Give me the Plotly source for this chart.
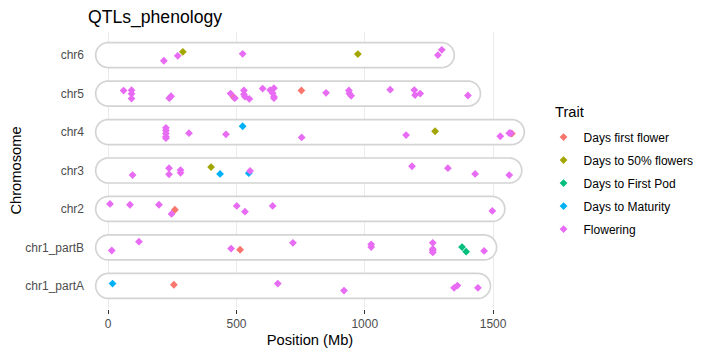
import numpy as np
import plotly.graph_objects as go

chromosomes = ["chr1_partA", "chr1_partB", "chr2", "chr3", "chr4", "chr5", "chr6"]
traits = ["Days first flower", "Days to 50% flowers", "Days to First Pod", "Days to Maturity", "Flowering"]
colors = ["#F8766D", "#A3A500", "#00BF7D", "#00B0F6", "#E76BF3"]

# Days first flower
dff_chr = ["chr5", "chr5", "chr4", "chr2", "chr1_partB", "chr1_partA"]
dff_pos = [490, 753, 1573, 260, 514, 256]
dff_jit = [-0.10, 0.08, -0.04, -0.02, -0.06, 0.03]

# Days to 50% flowers
d50_chr = ["chr6", "chr6", "chr4", "chr3"]
d50_pos = [291, 973, 1274, 401]
d50_jit = [0.085, 0.026, 0.02, 0.09]

# Days to First Pod
dfp_chr = ["chr1_partB", "chr1_partB"]
dfp_pos = [1379, 1395]
dfp_jit = [0.01, -0.11]

# Days to Maturity
dtm_chr = ["chr4", "chr3", "chr3", "chr1_partA"]
dtm_pos = [524, 436, 548, 17]
dtm_jit = [0.15, -0.09, -0.07, 0.06]

# Flowering
fl_chr = (["chr6"] * 5 + ["chr5"] * 27 + ["chr4"] * 12 + ["chr3"] * 10
          + ["chr2"] * 8 + ["chr1_partB"] * 11 + ["chr1_partA"] * 5)
fl_pos = [217, 271, 524, 1285, 1300,
          60, 91, 91, 91, 238, 245, 477, 494, 529, 529, 533, 550, 602, 631, 646, 641, 646, 646,
          849, 938, 940, 947, 1099, 1193, 1196, 1216, 1402,
          225, 225, 225, 225, 225, 315, 459, 754, 1161, 1528, 1563, 1569,
          95, 237, 237, 282, 282, 553, 1184, 1324, 1430, 1563,
          7, 85, 198, 247, 501, 533, 641, 1497,
          14, 120, 479, 720, 1025, 1025, 1265, 1265, 1265, 1265, 1465,
          661, 919, 1348, 1361, 1441]
fl_jit = [-0.147, -0.018, 0.034, 0.0, 0.137,
          0.078, 0.088, -0.008, -0.13, -0.12, -0.07, 0.0, -0.12, 0.08, -0.02, -0.08, -0.14, 0.13,
          0.09, 0.14, 0.01, -0.08, -0.12, 0.02, 0.08, 0.0, -0.06, 0.10, 0.09, -0.04, 0.0, -0.05,
          0.11, 0.04, -0.04, -0.12, -0.16, -0.03, -0.06, -0.14, -0.08, -0.11, -0.03, -0.03,
          -0.12, 0.06, -0.10, 0.01, -0.06, -0.01, 0.11, 0.06, -0.09, -0.12,
          0.13, 0.11, 0.11, -0.13, 0.08, -0.07, 0.08, -0.05,
          -0.08, 0.15, -0.03, 0.12, 0.08, 0.01, 0.12, -0.04, -0.08, -0.13, -0.09,
          0.06, -0.12, -0.05, 0.01, -0.05]

series = [
    (dff_chr, dff_pos, dff_jit),
    (d50_chr, d50_pos, d50_jit),
    (dfp_chr, dfp_pos, dfp_jit),
    (dtm_chr, dtm_pos, dtm_jit),
    (fl_chr, fl_pos, fl_jit),
]

# page body has an 8px margin, so the figure is drawn 8px smaller and shifted
OFF = 8
W, H = 710 - OFF, 355 - OFF
ML, MR, MT, MB = 88 - OFF, 178, 32 - OFF, 46
pw, ph = W - ML - MR, H - MT - MB

# chromosome extents (from 0 to farthest QTL)
chr_len = {c: 0 for c in chromosomes}
for cs, ps, _ in series:
    for c, p in zip(cs, ps):
        chr_len[c] = max(chr_len[c], p)
xmax = max(chr_len.values())
xr = [-0.05 * xmax, xmax * 1.05]
yr = [-0.6, len(chromosomes) - 0.4]
sx = pw / (xr[1] - xr[0])
sy = ph / (yr[1] - yr[0])

fig = go.Figure()

# pills
r_px = 12.5
shapes = []
for i, c in enumerate(chromosomes):
    L = chr_len[c]
    pts = []
    for t in np.linspace(np.pi / 2, -np.pi / 2, 25):
        pts.append((L + r_px * np.cos(t) / sx, i + r_px * np.sin(t) / sy))
    for t in np.linspace(-np.pi / 2, -3 * np.pi / 2, 25):
        pts.append((0 + r_px * np.cos(t) / sx, i + r_px * np.sin(t) / sy))
    path = "M " + " L ".join(f"{x:.4f},{y:.5f}" for x, y in pts) + " Z"
    shapes.append(dict(type="path", path=path, xref="x", yref="y",
                       fillcolor="white", line=dict(color="#d4d4d4", width=1.7),
                       layer="between"))

for k, (cs, ps, js) in enumerate(series):
    ys = [chromosomes.index(c) + j for c, j in zip(cs, js)]
    fig.add_trace(go.Scatter(
        x=ps, y=ys, mode="markers", name=traits[k], legendgroup=traits[k],
        marker=dict(symbol="diamond", size=6, color=colors[k]),
    ))

fig.update_layout(
    width=W, height=H,
    margin=dict(l=ML, r=MR, t=MT, b=MB, pad=0, autoexpand=False),
    paper_bgcolor="white", plot_bgcolor="white",
    shapes=shapes,
    font=dict(family="Liberation Sans, Arial, sans-serif", color="#4d4d4d", size=12),
    title=dict(text="QTLs_phenology", x=ML / W, xanchor="left", xref="container",
               y=1 - (17 - OFF) / H, yanchor="middle", yref="container", pad=dict(l=0, r=0, t=0, b=0),
               font=dict(size=17.6, color="black")),
    xaxis=dict(range=xr, tickvals=[0, 500, 1000, 1500], showgrid=True, automargin=False,
               gridcolor="#ebebeb", gridwidth=1, zeroline=False,
               ticks="outside", ticklen=4, tickcolor="#333333", tickwidth=1,
               tickfont=dict(size=12, color="#4d4d4d"),
               title=dict(text="Position (Mb)", font=dict(size=14.7, color="black"), standoff=4),
               showline=False),
    yaxis=dict(range=yr, tickvals=list(range(len(chromosomes))), ticktext=chromosomes,
               showgrid=False, zeroline=False, ticks="", ticklabelstandoff=3, automargin=False,
               tickfont=dict(size=12, color="#4d4d4d"),
               title=dict(text="Chromosome", font=dict(size=14.7, color="black"), standoff=3)),
    legend=dict(x=1.026, xanchor="left", y=0.673, yanchor="top",
                font=dict(size=12, color="black"), tracegroupgap=4),
    annotations=[dict(text="Trait", xref="paper", yref="paper",
                      x=(553 - 88) / pw, y=1 - (111.7 - 32) / ph,
                      xanchor="left", yanchor="middle", showarrow=False,
                      font=dict(size=14.7, color="black"))],
    showlegend=True,
)

fig.write_html("out.html")
